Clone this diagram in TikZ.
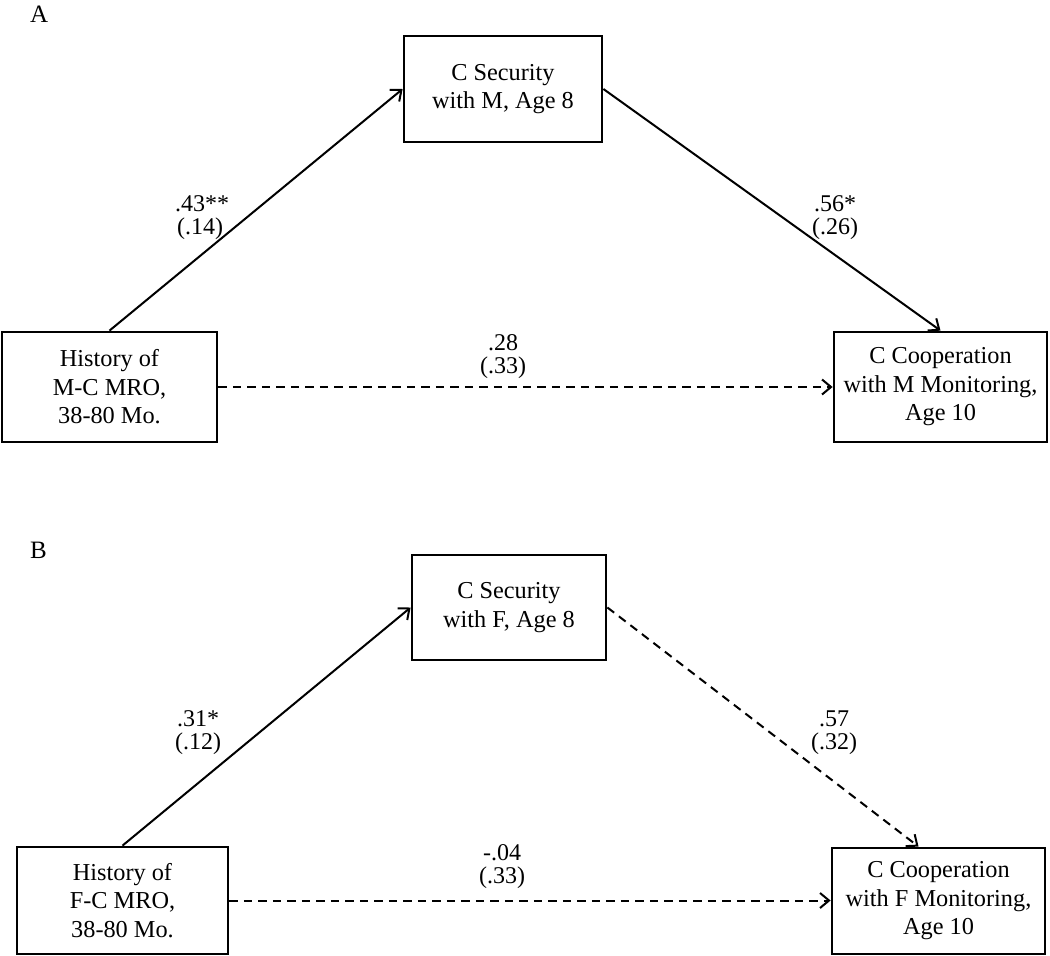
\documentclass[tikz,border=0pt]{standalone}
\usepackage{fontspec}
\setmainfont{Liberation Serif}
\usetikzlibrary{arrows.meta}
\tikzset{
  box/.style={draw, line width=2.8pt, rectangle, inner sep=0pt, align=center,
    font=\fontsize{24.3}{28.5}\selectfont},
  lab/.style={anchor=base, inner sep=0pt, font=\fontsize{24}{23}\selectfont},
  panel/.style={anchor=base west, inner sep=0pt, font=\fontsize{25}{28}\selectfont},
  conn/.style={line width=2pt, -{Straight Barb[length=9pt,width=15pt]}},
  dconn/.style={conn, dash pattern=on 8.5pt off 6pt}
}
\begin{document}
\begin{tikzpicture}[x=1pt,y=-1pt]
\useasboundingbox (0,0) rectangle (1050,956);
% Panel A
\node[panel] (pA) at (30,22) {A};
\node[box, minimum width=215pt, minimum height=110pt] (lA) at (109.5,387) {History of\\M-C MRO,\\38-80 Mo.};
\node[box, minimum width=198pt, minimum height=106pt] (tA) at (503,89) {C Security\\with M, Age 8};
\node[box, minimum width=213pt, minimum height=110pt] (rA) at (940.5,387) {C Cooperation\\with M Monitoring,\\Age 10};
\draw[conn] (lA.north) -- (tA.west);
\draw[conn] (tA.east) -- (rA.north);
\draw[dconn] (lA.east) -- (rA.west);
\node[lab] (a1) at (202,211) {.43**};
\node[lab] (a2) at (200,234) {(.14)};
\node[lab] (a3) at (835,211) {.56*};
\node[lab] (a4) at (835,234) {(.26)};
\node[lab] (a5) at (503,350) {.28};
\node[lab] (a6) at (503,373) {(.33)};
% Panel B
\node[panel] (pB) at (30,558) {B};
\node[box, minimum width=211pt, minimum height=107pt] (lB) at (122.5,900.5) {History of\\F-C MRO,\\38-80 Mo.};
\node[box, minimum width=194pt, minimum height=105pt] (tB) at (509,607.5) {C Security\\with F, Age 8};
\node[box, minimum width=213pt, minimum height=106pt] (rB) at (938.5,901) {C Cooperation\\with F Monitoring,\\Age 10};
\coordinate (rBin) at ([xshift=-20pt]rB.north);
\draw[conn] (lB.north) -- (tB.west);
\draw[dconn] (tB.east) -- (rBin);
\draw[dconn] (lB.east) -- (lB.east -| rB.west);
\node[lab] (b1) at (198,726) {.31*};
\node[lab] (b2) at (198,749) {(.12)};
\node[lab] (b3) at (834,726) {.57};
\node[lab] (b4) at (834,749) {(.32)};
\node[lab] (b5) at (502,860) {-.04};
\node[lab] (b6) at (502,883) {(.33)};
\end{tikzpicture}
\end{document}
